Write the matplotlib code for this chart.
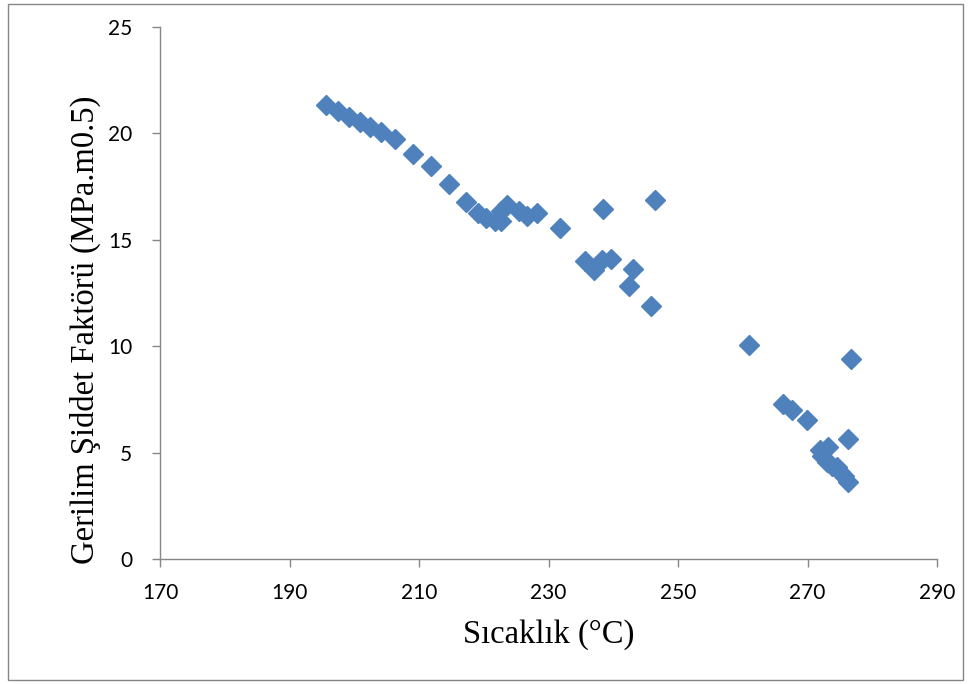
import matplotlib.pyplot as plt
from matplotlib.patches import Rectangle

# temperature (C) and stress intensity factor values
sicaklik = [195.7, 197.5, 199.2, 200.9, 202.5, 204.1, 206.3, 209.0, 211.8, 214.7,
            217.3, 219.1, 220.4, 221.8, 222.6, 222.6, 223.6, 225.4, 226.7, 228.3,
            231.8, 235.7, 237.0, 238.3, 239.6, 238.4, 242.4, 243.1, 245.8, 246.5,
            261.0, 266.2, 267.6, 269.9, 272.0, 273.2, 272.2, 273.0, 273.8, 274.5,
            275.0, 275.6, 276.3, 276.2, 276.7]
gerilim = [21.34, 21.07, 20.79, 20.53, 20.28, 20.06, 19.75, 19.03, 18.45, 17.62,
           16.78, 16.26, 16.03, 15.87, 15.87, 16.34, 16.65, 16.34, 16.13, 16.26,
           15.56, 14.0, 13.6, 14.07, 14.1, 16.45, 12.85, 13.63, 11.91, 16.85,
           10.05, 7.28, 6.98, 6.55, 5.1, 5.25, 4.85, 4.55, 4.38, 4.3,
           4.07, 3.9, 3.6, 5.63, 9.38]

x_ticks = [170, 190, 210, 230, 250, 270, 290]
y_ticks = [0, 5, 10, 15, 20, 25]

fig = plt.figure(figsize=(9.68, 6.84), dpi=100)
ax = fig.add_axes([160 / 968, 1 - 559 / 684, (937 - 160) / 968, (559 - 27) / 684])

ax.plot(sicaklik, gerilim, linestyle='none', marker='D', markersize=10.5,
        color='#4F81BD', markeredgecolor='#4F81BD')

ax.set_xlim(170, 290)
ax.set_ylim(0, 25)
ax.set_xticks(x_ticks)
ax.set_yticks(y_ticks)

# excel-like axes: only left and bottom lines, outward ticks
for side in ['top', 'right']:
    ax.spines[side].set_visible(False)
for side in ['left', 'bottom']:
    ax.spines[side].set_color('#868686')
    ax.spines[side].set_linewidth(1)
ax.tick_params(direction='out', length=6, width=1, color='#868686',
               labelsize=15)
ax.tick_params(axis='x', pad=11)
ax.tick_params(axis='y', pad=14)
for lbl in ax.get_xticklabels() + ax.get_yticklabels():
    lbl.set_fontfamily('Lato')

ax.set_xlabel('Sıcaklık (°C)', fontfamily='Liberation Serif', fontsize=23.5, labelpad=12)
ax.set_ylabel('Gerilim Şiddet Faktörü (MPa.m0.5)', fontfamily='Liberation Serif',
              fontsize=23.5)
# the y title sits a bit below the middle of the axis in the original
ax.yaxis.set_label_coords(-0.076, 0.43)

# outer chart border
fig.patches.append(Rectangle((8 / 968, 4 / 684), 955 / 968, 676 / 684,
                             transform=fig.transFigure, fill=False,
                             edgecolor='#868686', linewidth=1))

fig.savefig('out.png', dpi=100)
